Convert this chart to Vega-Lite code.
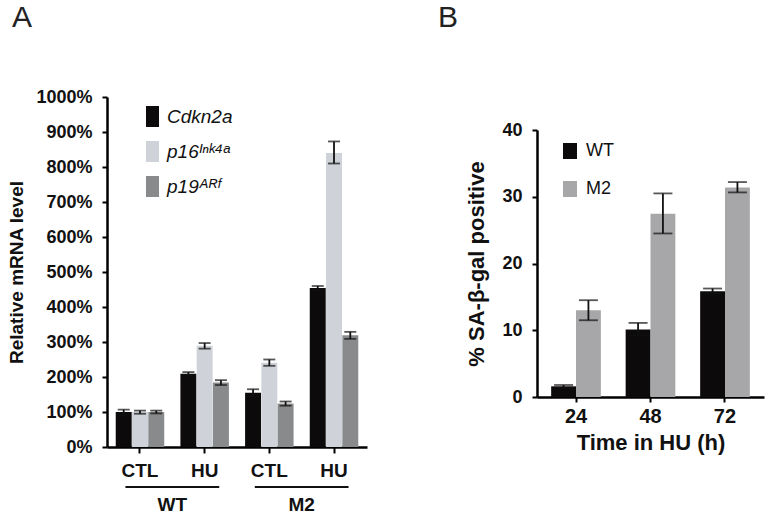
{
  "$schema": "https://vega.github.io/schema/vega-lite/v6.json",
  "padding": {"left": 7, "top": 3, "right": 5, "bottom": 0},
  "background": "white",
  "datasets": {
    "expr": [
      {"group": "WT CTL", "gene": "Cdkn2a", "value": 100, "lo": 91, "hi": 107},
      {"group": "WT CTL", "gene": "p16ᴵⁿᵏ⁴ᵃ", "value": 100, "lo": 95, "hi": 104},
      {"group": "WT CTL", "gene": "p19ᴬᴿᶠ", "value": 100, "lo": 96, "hi": 104},
      {"group": "WT HU", "gene": "Cdkn2a", "value": 209, "lo": 204, "hi": 214},
      {"group": "WT HU", "gene": "p16ᴵⁿᵏ⁴ᵃ", "value": 289, "lo": 281, "hi": 297},
      {"group": "WT HU", "gene": "p19ᴬᴿᶠ", "value": 184, "lo": 177, "hi": 191},
      {"group": "M2 CTL", "gene": "Cdkn2a", "value": 155, "lo": 145, "hi": 165},
      {"group": "M2 CTL", "gene": "p16ᴵⁿᵏ⁴ᵃ", "value": 241, "lo": 232, "hi": 250},
      {"group": "M2 CTL", "gene": "p19ᴬᴿᶠ", "value": 124, "lo": 118, "hi": 130},
      {"group": "M2 HU", "gene": "Cdkn2a", "value": 454, "lo": 448, "hi": 460},
      {"group": "M2 HU", "gene": "p16ᴵⁿᵏ⁴ᵃ", "value": 840, "lo": 810, "hi": 873},
      {"group": "M2 HU", "gene": "p19ᴬᴿᶠ", "value": 319, "lo": 309, "hi": 329}
    ],
    "geno": [
      {"genotype": "WT", "from": "WT CTL", "to": "WT HU"},
      {"genotype": "M2", "from": "M2 CTL", "to": "M2 HU"}
    ],
    "sa": [
      {"time": "24", "geno": "WT", "value": 1.6, "lo": 1.4, "hi": 1.8},
      {"time": "24", "geno": "M2", "value": 13.0, "lo": 11.5, "hi": 14.5},
      {"time": "48", "geno": "WT", "value": 10.1, "lo": 9.25, "hi": 11.1},
      {"time": "48", "geno": "M2", "value": 27.45, "lo": 24.5, "hi": 30.5},
      {"time": "72", "geno": "WT", "value": 15.85, "lo": 15.5, "hi": 16.25},
      {"time": "72", "geno": "M2", "value": 31.4, "lo": 30.65, "hi": 32.2}
    ]
  },
  "hconcat": [
    {
      "width": 260,
      "height": 350,
      "title": {"text": "A", "anchor": "start", "frame": "group", "dx": -95, "offset": 55, "fontSize": 30, "fontWeight": "normal", "font": "Liberation Sans", "color": "#222"},
      "data": {"name": "expr"},
      "layer": [
        {
          "mark": {"type": "bar"},
          "encoding": {
            "x": {"field": "group", "type": "nominal", "scale": {"domain": ["WT CTL", "WT HU", "M2 CTL", "M2 HU"], "paddingInner": 0.25, "paddingOuter": 0.135},
              "axis": {"title": null, "labelExpr": "split(datum.value, ' ')[1]", "labelAngle": 0, "labelFontSize": 19, "tickSize": 6, "labelPadding": 8}},
            "xOffset": {"field": "gene", "type": "nominal", "scale": {"domain": ["Cdkn2a", "p16ᴵⁿᵏ⁴ᵃ", "p19ᴬᴿᶠ"], "paddingInner": 0.02, "paddingOuter": 0}},
            "y": {"field": "value", "type": "quantitative", "scale": {"domain": [0, 1000]},
              "axis": {"title": "Relative mRNA level", "values": [0, 100, 200, 300, 400, 500, 600, 700, 800, 900, 1000], "tickCount": 12, "labelExpr": "datum.value + '%'", "titleFontSize": 19, "labelFontSize": 18, "titlePadding": 9, "labelOverlap": false}},
            "color": {"field": "gene", "type": "nominal", "scale": {"domain": ["Cdkn2a", "p16ᴵⁿᵏ⁴ᵃ", "p19ᴬᴿᶠ"], "range": ["#0c0a0b", "#cfd2d8", "#898a8c"]},
              "legend": {"title": null, "orient": "none", "legendX": 35, "legendY": 9, "symbolType": "M-0.62,-1H0.62V1H-0.62Z", "symbolSize": 441, "symbolStrokeWidth": 0, "symbolOpacity": 1, "labelFontSize": 19, "labelFontStyle": "italic", "labelFontWeight": "normal", "labelFont": "Liberation Sans", "labelOffset": 4, "rowPadding": 14, "padding": 0, "labelColor": "#111"}}
          }
        },
        {
          "mark": {"type": "rule", "color": "#111", "strokeWidth": 1.8},
          "encoding": {
            "x": {"field": "group", "type": "nominal"},
            "xOffset": {"field": "gene", "type": "nominal"},
            "y": {"field": "lo", "type": "quantitative"},
            "y2": {"field": "hi"}
          }
        },
        {
          "mark": {"type": "tick", "color": "#111", "thickness": 1.8, "size": 12, "orient": "horizontal"},
          "encoding": {
            "x": {"field": "group", "type": "nominal"},
            "xOffset": {"field": "gene", "type": "nominal"},
            "y": {"field": "hi", "type": "quantitative"}
          }
        },
        {
          "mark": {"type": "tick", "color": "#111", "thickness": 1.8, "size": 12, "orient": "horizontal"},
          "encoding": {
            "x": {"field": "group", "type": "nominal"},
            "xOffset": {"field": "gene", "type": "nominal"},
            "y": {"field": "lo", "type": "quantitative"}
          }
        },
        {
          "data": {"name": "geno"},
          "mark": {"type": "rule", "color": "#111", "strokeWidth": 2},
          "encoding": {
            "x": {"field": "from", "type": "nominal", "bandPosition": 0.2},
            "x2": {"field": "to", "bandPosition": 0.8},
            "y": {"datum": -114, "type": "quantitative"}
          }
        },
        {
          "data": {"name": "geno"},
          "mark": {"type": "text", "fontSize": 19, "fontWeight": "bold", "font": "Liberation Sans", "color": "#111", "baseline": "middle", "align": "center"},
          "encoding": {
            "x": {"field": "from", "type": "nominal", "bandPosition": 1.167},
            "y": {"datum": -166, "type": "quantitative"},
            "text": {"field": "genotype"}
          }
        }
      ]
    },
    {
      "width": 227,
      "height": 300,
      "title": {"text": "B", "anchor": "start", "frame": "group", "dx": -99, "offset": 64, "fontSize": 30, "fontWeight": "normal", "font": "Liberation Sans", "color": "#222"},
      "data": {"name": "sa"},
      "layer": [
        {
          "mark": {"type": "bar"},
          "encoding": {
            "x": {"field": "time", "type": "nominal", "scale": {"domain": ["24", "48", "72"], "paddingInner": 0.333, "paddingOuter": 0.19},
              "axis": {"title": "Time in HU (h)", "labelAngle": 0, "labelFontSize": 20, "titleFontSize": 22, "tickSize": 5, "labelPadding": 4, "titlePadding": 6}},
            "xOffset": {"field": "geno", "type": "nominal", "scale": {"domain": ["WT", "M2"], "paddingInner": 0, "paddingOuter": 0}},
            "y": {"field": "value", "type": "quantitative", "scale": {"domain": [0, 40], "range": [300, 33]},
              "axis": {"title": "% SA-β-gal positive", "values": [0, 10, 20, 30, 40], "tickCount": 6, "titleFontSize": 22, "labelFontSize": 18, "titlePadding": 13, "labelOverlap": false}},
            "color": {"field": "geno", "type": "nominal", "scale": {"domain": ["WT", "M2"], "range": ["#0c0a0b", "#a7a7aa"]},
              "legend": {"title": null, "orient": "none", "legendX": 24, "legendY": 45, "symbolType": "M-0.875,-1H0.875V1H-0.875Z", "symbolSize": 256, "symbolStrokeWidth": 0, "symbolOpacity": 1, "labelFontSize": 18, "labelFontWeight": "normal", "labelFont": "Liberation Sans", "labelOffset": 7, "rowPadding": 20, "padding": 0, "labelColor": "#111"}}
          }
        },
        {
          "mark": {"type": "rule", "color": "#111", "strokeWidth": 1.8},
          "encoding": {
            "x": {"field": "time", "type": "nominal"},
            "xOffset": {"field": "geno", "type": "nominal"},
            "y": {"field": "lo", "type": "quantitative"},
            "y2": {"field": "hi"}
          }
        },
        {
          "mark": {"type": "tick", "color": "#111", "thickness": 1.8, "size": 19, "orient": "horizontal"},
          "encoding": {
            "x": {"field": "time", "type": "nominal"},
            "xOffset": {"field": "geno", "type": "nominal"},
            "y": {"field": "hi", "type": "quantitative"}
          }
        },
        {
          "mark": {"type": "tick", "color": "#111", "thickness": 1.8, "size": 19, "orient": "horizontal"},
          "encoding": {
            "x": {"field": "time", "type": "nominal"},
            "xOffset": {"field": "geno", "type": "nominal"},
            "y": {"field": "lo", "type": "quantitative"}
          }
        }
      ]
    }
  ],
  "spacing": 71,
  "resolve": {"scale": {"color": "independent", "xOffset": "independent", "x": "independent", "y": "independent"}, "legend": {"color": "independent"}},
  "config": {
    "view": {"stroke": null},
    "font": "Liberation Sans",
    "axis": {
      "grid": false,
      "domainColor": "#000",
      "domainWidth": 2.5,
      "tickColor": "#000",
      "tickWidth": 2,
      "tickSize": 5,
      "labelFont": "Liberation Sans",
      "labelFontWeight": "bold",
      "labelColor": "#111",
      "labelPadding": 10,
      "titleFont": "Liberation Sans",
      "titleFontWeight": "bold",
      "titleColor": "#111"
    }
  }
}
